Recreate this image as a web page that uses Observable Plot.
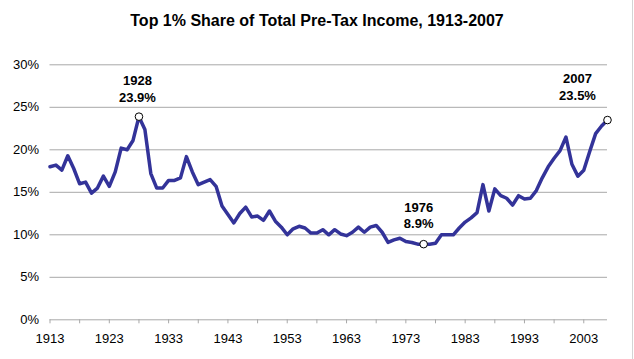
<!DOCTYPE html>
<html>
<head>
<meta charset="utf-8">
<script src="https://cdn.jsdelivr.net/npm/d3@7"></script>
<script src="https://cdn.jsdelivr.net/npm/@observablehq/plot@0.6"></script>
<style>
  html, body { margin: 0; padding: 0; background: #fff; }
  #wrap { position: relative; width: 634px; height: 359px; overflow: hidden; font-family: "Liberation Sans", Arial, sans-serif; }
  #title { height: 40px; line-height: 42px; text-align: center; font-weight: bold; font-size: 16px; color: #000; }
  #edge { position: absolute; left: 632px; top: 0; width: 1px; height: 359px; background: #d4d4d4; }
</style>
</head>
<body>
<div id="wrap">
  <div id="title">Top 1% Share of Total Pre-Tax Income, 1913-2007</div>
  <div id="chart"></div>
  <div id="edge"></div>
</div>
<script>
const years = d3.range(1913, 2008);
const shares = [
  18.0, 18.2, 17.6, 19.3, 17.8, 16.0, 16.2, 14.9, 15.5, 16.9,   // 1913-1922
  15.7, 17.4, 20.2, 20.0, 21.1, 23.9, 22.4, 17.2, 15.5, 15.5,   // 1923-1932
  16.4, 16.4, 16.7, 19.2, 17.4, 15.9, 16.2, 16.5, 15.7, 13.4,   // 1933-1942
  12.4, 11.4, 12.5, 13.25, 12.1, 12.2, 11.7, 12.8, 11.6, 10.9,  // 1943-1952
  10.0, 10.7, 11.0, 10.8, 10.2, 10.2, 10.6, 10.0, 10.6, 10.1,   // 1953-1962
  9.9, 10.3, 10.9, 10.3, 10.9, 11.1, 10.3, 9.1, 9.4, 9.6,       // 1963-1972
  9.2, 9.1, 8.9, 8.9, 8.9, 9.0, 10.0, 10.0, 10.0, 10.8,         // 1973-1982
  11.5, 12.0, 12.6, 15.9, 12.8, 15.4, 14.6, 14.3, 13.5, 14.6,   // 1983-1992
  14.2, 14.3, 15.2, 16.7, 18.0, 19.0, 19.9, 21.5, 18.3, 16.9,   // 1993-2002
  17.6, 19.8, 21.9, 22.8, 23.5                                   // 2003-2007
];
const data = years.map((year, i) => ({year, share: shares[i]}));

const yTicks = [0, 5, 10, 15, 20, 25, 30];
const gridTicks = [5, 10, 15, 20, 25, 30];
const xTicks = d3.range(1913, 2004, 5);
const labelYears = d3.range(1913, 2004, 10);

const annotYears = [1928, 1976, 2007];
const annotText = ["1928\n23.9%", "1976\n8.9%", "2007\n23.5%"];
const annot = annotYears.map((year, i) => ({year, share: shares[year - 1913], text: annotText[i]}));

const chart = Plot.plot({
  width: 634,
  height: 319,
  marginTop: 24.3,
  marginBottom: 39.7,
  marginLeft: 49.5,
  marginRight: 27,
  style: {fontFamily: "'Liberation Sans', Arial, sans-serif", fontSize: "13px", color: "#000", background: "#fff"},
  x: {domain: [1913, 2007]},
  y: {domain: [0, 30]},
  marks: [
    Plot.ruleY(gridTicks, {stroke: "#a8a8a8", strokeWidth: 1}),
    Plot.ruleY([0], {stroke: "#a8a8a8", strokeWidth: 1}),
    Plot.axisY({ticks: yTicks, tickFormat: d => d + "%", tickSize: 0, tickPadding: 11, label: null, fontSize: 13}),
    Plot.axisX({ticks: xTicks, tickFormat: d => labelYears.includes(d) ? String(d) : "", tickSize: 4, tickPadding: 10, stroke: "#a8a8a8", label: null, fontSize: 13, fill: "#000"}),
    Plot.line(data, {x: "year", y: "share", stroke: "#333399", strokeWidth: 3.5, strokeLinejoin: "round"}),
    Plot.dot(annot, {x: "year", y: "share", r: 3.8, fill: "#fff", stroke: "#000", strokeWidth: 1}),
    Plot.text(annot.filter(d => d.year === 1928), {x: "year", y: "share", text: "text", lineAnchor: "bottom", dy: -15, dx: -1.5, fontWeight: "bold", fontSize: 13, lineHeight: 1.28, fill: "#000"}),
    Plot.text(annot.filter(d => d.year === 1976), {x: "year", y: "share", text: "text", lineAnchor: "bottom", dy: -16, dx: -5, fontWeight: "bold", fontSize: 13, lineHeight: 1.28, fill: "#000"}),
    Plot.text(annot.filter(d => d.year === 2007), {x: "year", y: "share", text: "text", lineAnchor: "bottom", dy: -20, dx: -30, fontWeight: "bold", fontSize: 13, lineHeight: 1.28, fill: "#000"})
  ]
});
document.getElementById("chart").appendChild(chart);
</script>
</body>
</html>
